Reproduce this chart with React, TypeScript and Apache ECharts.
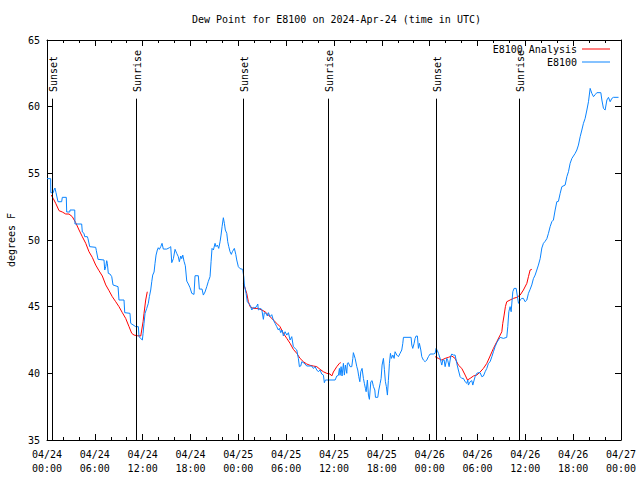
import React, { useEffect, useRef } from "react";
import * as echarts from "echarts";

const TITLE = "Dew Point for E8100 on 2024-Apr-24 (time in UTC)";
const Y_NAME = "degrees F";
const SERIES_ANALYSIS = "E8100 Analysis";
const SERIES_OBS = "E8100";

// hours since 2024-04-24 00:00 UTC
const sunHours = [0.66, 11.2, 24.63, 35.3, 48.75, 59.26];
const sunLabels = ["Sunset", "Sunrise", "Sunset", "Sunrise", "Sunset", "Sunrise"];
const SUN_LINE_TOP = 60.6;
const SUN_LABEL_BASE = 61.1;

const yTicks = { min: 35, max: 65, interval: 5 };

const analysis1: [number, number][] = [
  [0.54, 53.37], [0.79, 53.1], [1.09, 52.75], [1.51, 52.2], [1.92, 52.1], [2.35, 51.95],
  [2.76, 51.95], [3.17, 51.75], [3.6, 51.3], [4.02, 50.75], [4.43, 50.25], [4.86, 49.75],
  [5.27, 49.12], [5.68, 48.7], [6.11, 48.12], [6.52, 47.7], [6.94, 47.3], [7.37, 46.63],
  [7.78, 46.2], [8.19, 45.75], [8.62, 45.37], [9.03, 45.0], [9.45, 44.55], [9.87, 44.12],
  [10.29, 43.5], [10.63, 43.0], [10.92, 42.87], [11.33, 42.82], [11.76, 42.8], [11.88, 43.25],
  [12.05, 43.87], [12.17, 44.5], [12.38, 45.5], [12.58, 46.12],
];
const analysis2: [number, number][] = [
  [24.63, 46.75], [24.84, 46.4], [25.05, 46.0], [25.26, 45.37], [25.47, 45.0], [25.88, 44.87],
  [26.51, 44.87], [26.94, 44.75], [27.35, 44.62], [27.98, 44.25], [28.39, 44.0], [28.82, 43.75],
  [29.23, 43.5], [29.65, 43.0], [30.08, 42.62], [30.49, 42.25], [30.9, 41.8], [31.33, 41.5],
  [31.74, 41.12], [32.16, 40.87], [32.58, 40.7], [33.0, 40.6], [33.41, 40.55], [33.84, 40.5],
  [34.25, 40.3], [34.67, 40.12], [35.09, 40.0], [35.51, 39.95], [35.72, 39.8], [35.92, 40.1],
  [36.35, 40.5], [36.68, 40.75], [36.85, 40.8],
];
const analysis3: [number, number][] = [
  [48.68, 41.25], [49.1, 41.12], [49.52, 41.0], [49.94, 41.12], [50.35, 41.2], [50.78, 41.3],
  [51.19, 41.12], [51.6, 40.62], [52.03, 40.37], [52.45, 39.87], [52.74, 39.5], [53.07, 39.62],
  [53.49, 39.8], [53.91, 39.87], [54.33, 40.1], [54.74, 40.37], [55.17, 40.75], [55.58, 41.3],
  [56.0, 41.87], [56.42, 42.37], [56.84, 42.87], [57.05, 43.12], [57.17, 43.75], [57.34, 44.37],
  [57.5, 45.0], [57.67, 45.37], [58.09, 45.5], [58.51, 45.62], [58.93, 45.7], [59.35, 45.87],
  [59.76, 46.25], [60.19, 46.75], [60.39, 47.25], [60.6, 47.75], [60.81, 47.8],
];

const observed: [number, number][] = [
  [0, 54.6], [0.46, 54.6], [0.48, 53.55], [0.79, 53.55], [0.88, 53.75], [1.0, 53.9], [1.13, 53.55],
  [1.38, 52.87], [1.84, 52.87], [1.92, 53.2], [2.42, 53.2], [2.47, 52.1], [2.85, 52.1], [2.89, 52.25],
  [3.48, 52.25], [3.51, 51.2], [4.35, 51.2], [4.43, 50.6], [4.64, 50.5], [4.73, 50.25], [5.06, 50.25],
  [5.14, 50.1], [5.36, 49.5], [6.11, 49.45], [6.19, 49.2], [6.4, 48.55], [7.15, 48.5], [7.24, 47.75],
  [7.37, 48.0], [7.49, 48.45], [7.57, 48.25], [7.69, 47.5], [7.9, 47.45], [8.12, 47.25], [8.28, 46.63],
  [8.91, 46.5], [9.03, 45.5], [9.66, 45.5], [9.75, 44.55], [10.41, 44.5], [10.5, 43.75], [11.13, 43.5],
  [11.46, 43.5], [11.54, 42.75], [11.96, 42.5], [12.05, 43.0], [12.17, 43.75], [12.3, 44.5],
  [12.51, 44.87], [12.71, 45.25], [12.84, 45.75], [13.01, 46.25], [13.14, 46.87], [13.26, 47.37],
  [13.43, 47.6], [13.55, 48.25], [13.68, 48.87], [13.84, 49.25], [13.96, 49.42], [14.09, 49.3],
  [14.27, 49.5], [14.43, 49.75], [14.59, 49.32], [15.02, 49.32], [15.35, 49.42], [15.52, 49.5],
  [15.65, 48.3], [15.85, 48.6], [16.06, 49.3], [16.27, 49.0], [16.47, 48.75], [16.6, 48.37],
  [16.78, 48.8], [16.9, 48.6], [17.03, 48.87], [17.19, 48.4], [17.35, 48.07], [17.53, 46.92],
  [17.73, 46.7], [17.94, 46.42], [18.16, 46.0], [18.44, 45.92], [18.57, 47.32], [18.98, 47.32],
  [19.11, 46.32], [19.45, 46.32], [19.61, 45.87], [19.82, 46.1], [20.04, 46.5], [20.24, 46.9],
  [20.45, 47.25], [20.58, 48.37], [20.7, 49.37], [20.87, 49.25], [21.08, 49.75], [21.2, 49.5],
  [21.37, 49.62], [21.54, 49.37], [21.71, 49.87], [21.83, 50.37], [21.96, 51.0], [22.12, 51.67],
  [22.25, 51.25], [22.37, 50.75], [22.55, 50.5], [22.67, 49.87], [22.8, 49.5], [22.96, 49.12],
  [23.12, 48.92], [23.25, 49.12], [23.38, 49.25], [23.5, 49.37], [23.68, 48.92], [23.8, 48.5],
  [24.0, 48.0], [24.22, 47.85], [24.55, 47.8], [24.68, 47.25], [24.76, 46.62], [24.97, 46.0],
  [25.13, 45.37], [25.38, 45.2], [25.56, 45.0], [25.69, 44.75], [25.89, 44.95], [26.1, 44.9],
  [26.31, 45.05], [26.44, 45.2], [26.51, 44.75], [26.72, 44.87], [26.94, 44.8], [27.14, 44.05],
  [27.26, 44.55], [27.48, 44.5], [27.64, 44.3], [27.77, 44.55], [27.98, 44.25], [28.19, 44.4],
  [28.39, 44.0], [28.61, 43.75], [28.82, 43.5], [29.02, 43.25], [29.15, 43.37], [29.32, 43.05],
  [29.49, 43.25], [29.65, 42.8], [29.86, 43.12], [30.08, 42.87], [30.28, 43.05], [30.49, 42.5],
  [30.7, 42.75], [30.9, 42.0], [31.12, 41.87], [31.33, 41.75], [31.53, 41.12], [31.66, 40.5],
  [31.83, 40.55], [31.96, 40.87], [32.16, 40.8], [32.37, 40.7], [32.58, 40.55], [33.0, 40.55],
  [33.21, 40.55], [33.41, 40.37], [33.63, 40.5], [33.84, 40.25], [34.04, 40.12], [34.25, 40.25],
  [34.46, 39.95], [34.67, 39.87], [34.79, 39.3], [34.92, 39.5], [35.09, 39.5], [36.14, 39.5],
  [36.35, 39.8], [36.55, 39.85], [36.68, 40.37], [36.76, 39.85], [36.89, 40.5], [37.01, 39.8],
  [37.18, 40.75], [37.3, 39.87], [37.43, 40.62], [37.6, 40.0], [37.68, 40.75], [37.8, 40.8],
  [38.02, 40.5], [38.23, 40.5], [38.36, 41.12], [38.43, 41.55], [38.65, 41.12], [38.86, 40.5],
  [38.98, 40.25], [39.11, 39.75], [39.24, 39.37], [39.36, 40.12], [39.52, 40.37], [39.69, 39.62],
  [39.81, 39.25], [39.94, 38.87], [40.03, 38.62], [40.19, 39.5], [40.32, 38.37], [40.44, 38.05],
  [40.62, 39.37], [40.78, 39.45], [40.95, 39.0], [41.12, 38.75], [41.2, 38.2], [41.49, 38.2],
  [41.62, 38.75], [41.79, 39.25], [41.91, 39.62], [42.03, 40.62], [42.2, 41.12], [42.32, 40.3],
  [42.45, 39.37], [42.57, 39.0], [42.7, 38.37], [42.82, 39.45], [42.95, 40.75], [43.08, 41.5],
  [43.2, 41.12], [43.38, 41.37], [43.54, 41.12], [43.66, 41.62], [43.88, 41.37], [44.08, 41.25],
  [44.29, 41.5], [44.5, 41.75], [44.63, 42.25], [44.71, 42.7], [45.55, 42.7], [45.67, 42.7],
  [45.76, 42.12], [45.88, 41.87], [46.05, 42.25], [46.17, 42.62], [46.3, 42.8], [46.46, 42.8],
  [46.59, 41.87], [46.71, 42.25], [46.89, 41.75], [47.01, 41.25], [47.21, 41.0], [47.43, 40.87],
  [47.64, 41.0], [47.84, 41.25], [48.06, 41.45], [48.47, 41.45], [48.68, 41.5], [48.81, 41.87],
  [48.97, 41.7], [49.1, 41.5], [49.31, 41.12], [49.52, 40.62], [49.65, 41.0], [49.81, 41.0],
  [49.94, 40.5], [50.15, 41.12], [50.28, 40.95], [50.44, 40.5], [50.65, 41.3], [50.78, 41.45],
  [50.98, 41.37], [51.19, 41.37], [51.4, 40.75], [51.6, 40.25], [51.82, 39.75], [52.03, 39.62],
  [52.23, 39.62], [52.45, 39.37], [52.66, 39.25], [52.78, 39.5], [52.86, 39.12], [53.07, 39.37],
  [53.29, 39.45], [53.41, 39.12], [53.58, 39.5], [53.7, 39.75], [53.91, 40.0], [54.12, 40.05],
  [54.33, 40.05], [54.54, 39.75], [54.74, 39.8], [54.96, 40.12], [55.17, 40.37], [55.37, 40.75],
  [55.58, 40.87], [55.8, 41.25], [56.0, 41.62], [56.21, 42.0], [56.42, 42.3], [56.62, 42.5],
  [56.84, 42.7], [57.25, 42.62], [57.67, 42.7], [57.8, 43.5], [57.93, 44.62], [58.09, 45.0],
  [58.22, 44.62], [58.34, 45.5], [58.43, 46.12], [58.59, 46.37], [58.85, 46.37], [59.01, 45.75],
  [59.14, 45.25], [59.35, 45.5], [59.56, 45.62], [59.76, 45.62], [59.97, 45.37], [60.19, 45.5],
  [60.39, 46.0], [60.6, 46.3], [60.81, 46.63], [61.01, 47.1], [61.23, 47.37], [61.44, 47.75],
  [61.64, 48.12], [61.86, 48.6], [62.07, 49.4], [62.27, 49.75], [62.48, 49.9], [62.7, 50.1],
  [62.9, 50.5], [63.11, 51.0], [63.32, 51.37], [63.52, 51.5], [63.74, 52.25], [63.95, 52.87],
  [64.15, 52.9], [64.37, 53.5], [64.58, 54.0], [64.99, 54.12], [65.21, 54.75], [65.41, 55.12],
  [65.62, 55.75], [65.84, 56.12], [66.25, 56.5], [66.46, 56.75], [66.66, 57.12], [66.88, 57.75],
  [67.09, 58.25], [67.29, 58.75], [67.5, 59.12], [67.72, 59.75], [67.92, 60.37], [68.13, 61.37],
  [68.34, 61.0], [68.55, 60.75], [68.76, 60.9], [68.97, 61.05], [69.47, 61.05], [69.6, 60.5],
  [69.8, 59.87], [70.01, 59.75], [70.23, 60.5], [70.43, 60.7], [70.64, 60.37], [70.85, 60.62],
  [71.06, 60.7], [71.69, 60.7],
];

const FONT = '"DejaVu Sans Mono", monospace';
const pad = (n: number) => (n < 10 ? "0" + n : "" + n);
const fmtHour = (h: number) => {
  const day = 24 + Math.floor(h / 24);
  const hh = Math.round(h % 24);
  return `04/${day}\n${pad(hh)}:00`;
};

export default function App() {
  const ref = useRef<HTMLDivElement>(null);
  useEffect(() => {
    if (!ref.current) return;
    const chart = echarts.init(ref.current, undefined, { renderer: "svg" });
    const analysisData: (number[] | null)[] = [
      ...analysis1, [18, null as any], ...analysis2, [42, null as any], ...analysis3,
    ];
    const axisCommon = {
      axisLine: { show: true, onZero: false, lineStyle: { color: "#000", width: 1 } },
      axisTick: { show: true, inside: true, length: 6, lineStyle: { color: "#000" } },
      splitLine: { show: false },
    };
    chart.setOption({
      animation: false,
      backgroundColor: "#fff",
      title: {
        text: TITLE,
        left: 187,
        top: 9,
        textStyle: { fontFamily: FONT, fontSize: 10, fontWeight: "normal", color: "#000" },
      },
      legend: [
        {
          data: [SERIES_ANALYSIS], right: 30, top: 44, orient: "vertical", align: "right",
          icon: "rect", itemWidth: 28, itemHeight: 1, padding: 0,
          textStyle: { fontFamily: FONT, fontSize: 10, color: "#000" },
        },
        {
          data: [SERIES_OBS], right: 30, top: 57, orient: "vertical", align: "right",
          icon: "rect", itemWidth: 28, itemHeight: 1, padding: 0,
          textStyle: { fontFamily: FONT, fontSize: 10, color: "#000" },
        },
      ],
      grid: { left: 47, right: 19, top: 40, bottom: 40, containLabel: false, outerBoundsMode: "none" },
      xAxis: [
        {
          type: "value", min: 0, max: 72, interval: 6, position: "bottom",
          ...axisCommon,
          minorTick: { show: true, splitNumber: 3, length: 3, lineStyle: { color: "#000" } },
          axisLabel: {
            formatter: fmtHour, fontFamily: FONT, fontSize: 10, color: "#000",
            margin: 7, lineHeight: 14,
          },
        },
        {
          type: "value", min: 0, max: 72, interval: 6, position: "top",
          ...axisCommon,
          minorTick: { show: true, splitNumber: 3, length: 3, lineStyle: { color: "#000" } },
          axisLabel: { show: false },
        },
      ],
      yAxis: [
        {
          type: "value", min: yTicks.min, max: yTicks.max, interval: yTicks.interval, position: "left",
          ...axisCommon,
          name: Y_NAME, nameLocation: "middle", nameGap: 31,
          nameTextStyle: { fontFamily: FONT, fontSize: 10, color: "#000" },
          axisLabel: { fontFamily: FONT, fontSize: 10, color: "#000", margin: 7 },
        },
        {
          type: "value", min: yTicks.min, max: yTicks.max, interval: yTicks.interval, position: "right",
          ...axisCommon,
          axisLabel: { show: false },
        },
      ],
      series: [
        {
          name: SERIES_ANALYSIS, type: "line", data: analysisData, showSymbol: false,
          connectNulls: false, color: "#ff0000", lineStyle: { width: 1, color: "#ff0000" },
          itemStyle: { color: "#ff0000" },
        },
        {
          name: SERIES_OBS, type: "line", data: observed, showSymbol: false,
          color: "#0a84ff", lineStyle: { width: 1, color: "#0a84ff" },
          itemStyle: { color: "#0a84ff" },
        },
      ],
    });
    const graphics: any[] = [];
    sunHours.forEach((h, i) => {
      const top = chart.convertToPixel({ gridIndex: 0 }, [h, SUN_LINE_TOP]) as number[];
      const bot = chart.convertToPixel({ gridIndex: 0 }, [h, yTicks.min]) as number[];
      const lab = chart.convertToPixel({ gridIndex: 0 }, [h, SUN_LABEL_BASE]) as number[];
      const x = Math.round(top[0]) + 0.5;
      graphics.push({
        type: "line", z: 10,
        shape: { x1: x, y1: top[1], x2: x, y2: bot[1] },
        style: { stroke: "#000", lineWidth: 1 },
      });
      graphics.push({
        type: "text", z: 10, x: x + 1, y: lab[1], rotation: Math.PI / 2,
        style: {
          text: sunLabels[i], fill: "#000", fontFamily: FONT, fontSize: 10,
          align: "left", verticalAlign: "middle",
        },
      });
    });
    chart.setOption({ graphic: graphics });
    return () => chart.dispose();
  }, []);
  return (
    <div
      ref={ref}
      style={{ position: "fixed", left: 0, top: 0, width: 640, height: 480, background: "#fff" }}
    />
  );
}
